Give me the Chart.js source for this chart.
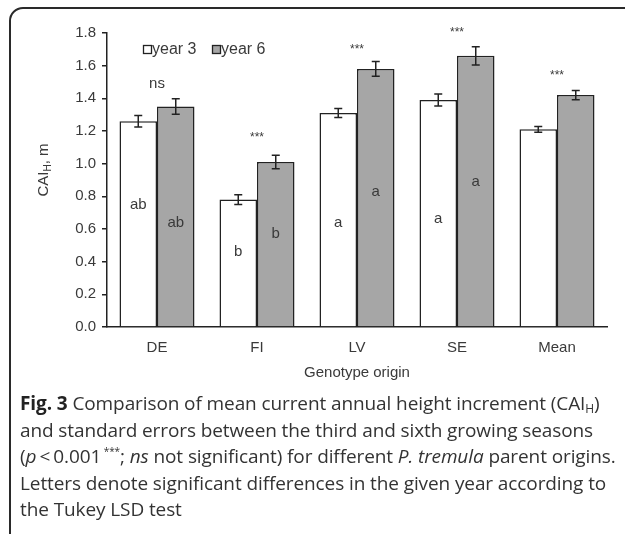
<!DOCTYPE html>
<html>
<head>
<meta charset="utf-8">
<script src="https://cdn.jsdelivr.net/npm/chart.js@4/dist/chart.umd.min.js"></script>
<style>
  html, body { margin: 0; padding: 0; background: #fff; overflow: hidden; }
  #wrap { position: relative; width: 625px; height: 534px; }
  #frame {
    position: absolute; left: 9px; top: 7px; width: 650px; height: 540px;
    border: 2px solid #2a2a2a; border-radius: 14px; box-sizing: border-box;
  }
  canvas { position: absolute; left: 0; top: 0; }
  #caption {
    position: absolute; left: 20px; top: 390px; width: 610px;
    font-family: "Open Sans", sans-serif; font-size: 19px; line-height: 26.5px;
    color: #333; white-space: nowrap; letter-spacing: -0.1px;
  }
  #caption b { color: #222; }
  #caption sub { font-size: 12px; vertical-align: -3px; line-height: 0; }
  #caption sup { font-size: 10px; vertical-align: 8px; line-height: 0; }
</style>
</head>
<body>
<div id="wrap">
  <div id="frame"></div>
  <canvas id="barChart" width="625" height="534"></canvas>
  <div id="caption">
    <b>Fig. 3</b> Comparison of mean current annual height increment (CAI<sub>H</sub>)<br>
    and standard errors between the third and sixth growing seasons<br>
    (<i>p</i>&thinsp;&lt;&thinsp;0.001<sup>&nbsp;***</sup>; <i>ns</i> not significant) for different <i>P. tremula</i> parent origins.<br>
    Letters denote significant differences in the given year according to<br>
    the Tukey LSD test
  </div>
</div>
<script>
// values
const categories = ['DE', 'FI', 'LV', 'SE', 'Mean'];
const year3 = [1.26, 0.78, 1.31, 1.39, 1.21];
const year6 = [1.35, 1.01, 1.58, 1.66, 1.42];
const err3 = [0.035, 0.03, 0.028, 0.037, 0.017];
const err6 = [0.048, 0.041, 0.045, 0.056, 0.028];
const letters3 = ['ab', 'b', 'a', 'a', ''];
const letters6 = ['ab', 'b', 'a', 'a', ''];
const letterY3 = [0.75, 0.46, 0.64, 0.66, 0];
const letterY6 = [0.64, 0.57, 0.83, 0.89, 0];
const signif = ['ns', '***', '***', '***', '***'];
const signifY = [1.49, 1.16, 1.70, 1.80, 1.54];
const yTicks = [0, 0.2, 0.4, 0.6, 0.8, 1.0, 1.2, 1.4, 1.6, 1.8];

const FONT = '"Liberation Sans", Arial, sans-serif';
const INK = '#3a3a3a';

const extras = {
  id: 'extras',
  afterDatasetsDraw(chart) {
    const ctx = chart.ctx;
    const y = chart.scales.y;
    const xs = chart.scales.x;
    ctx.save();
    // error bars
    [[err3, year3], [err6, year6]].forEach(([errs, vals], di) => {
      chart.getDatasetMeta(di).data.forEach((bar, i) => {
        const top = y.getPixelForValue(vals[i] + errs[i]);
        const bot = y.getPixelForValue(vals[i] - errs[i]);
        ctx.strokeStyle = '#222';
        ctx.lineWidth = 1.5;
        ctx.beginPath();
        ctx.moveTo(bar.x, top); ctx.lineTo(bar.x, bot);
        ctx.moveTo(bar.x - 4, top); ctx.lineTo(bar.x + 4, top);
        ctx.moveTo(bar.x - 4, bot); ctx.lineTo(bar.x + 4, bot);
        ctx.stroke();
      });
    });
    // letters inside bars
    ctx.fillStyle = INK;
    ctx.font = '15px ' + FONT;
    ctx.textAlign = 'center';
    ctx.textBaseline = 'middle';
    [[letters3, letterY3], [letters6, letterY6]].forEach(([txt, pos], di) => {
      chart.getDatasetMeta(di).data.forEach((bar, i) => {
        if (txt[i]) ctx.fillText(txt[i], bar.x, y.getPixelForValue(pos[i]));
      });
    });
    // significance marks
    signif.forEach((s, i) => {
      const cx = xs.getPixelForValue(i);
      ctx.font = (s === 'ns' ? '15px ' : '12px ') + FONT;
      ctx.fillText(s, cx, y.getPixelForValue(signifY[i]));
    });
    // x title
    ctx.font = '15px ' + FONT;
    ctx.fillText('Genotype origin', (xs.left + xs.right) / 2, 373);
    // legend
    ctx.font = '16px ' + FONT;
    ctx.textAlign = 'left';
    ctx.lineWidth = 1.3;
    ctx.strokeStyle = '#222';
    ctx.fillStyle = '#fff';
    ctx.fillRect(143.5, 45.5, 8, 8); ctx.strokeRect(143.5, 45.5, 8, 8);
    ctx.fillStyle = '#a6a6a6';
    ctx.fillRect(212.5, 45.5, 8, 8); ctx.strokeRect(212.5, 45.5, 8, 8);
    ctx.fillStyle = INK;
    ctx.fillText('year 3', 152, 50);
    ctx.fillText('year 6', 221, 50);
    // y title with subscript
    ctx.translate(44, 170);
    ctx.rotate(-Math.PI / 2);
    const a = 'CAI', b = 'H', c = ', m';
    ctx.font = '15px ' + FONT; const wa = ctx.measureText(a).width;
    ctx.font = '10px ' + FONT; const wb = ctx.measureText(b).width;
    ctx.font = '15px ' + FONT; const wc = ctx.measureText(c).width;
    const x0 = -(wa + wb + wc) / 2;
    ctx.fillText(a, x0, 0);
    ctx.font = '10px ' + FONT; ctx.fillText(b, x0 + wa, 4);
    ctx.font = '15px ' + FONT; ctx.fillText(c, x0 + wa + wb, 0);
    ctx.restore();
  }
};

new Chart(document.getElementById('barChart').getContext('2d'), {
  type: 'bar',
  data: {
    labels: categories,
    datasets: [
      {
        label: 'year 3',
        data: year3,
        backgroundColor: '#ffffff',
        borderColor: '#222',
        borderWidth: 1.5,
        categoryPercentage: 0.75,
        barPercentage: 1.0,
      },
      {
        label: 'year 6',
        data: year6,
        backgroundColor: '#a6a6a6',
        borderColor: '#222',
        borderWidth: 1.5,
        categoryPercentage: 0.75,
        barPercentage: 1.0,
      },
    ],
  },
  options: {
    responsive: false,
    animation: false,
    layout: { padding: { left: 0, right: 18, top: 33, bottom: 0 } },
    plugins: { legend: { display: false }, tooltip: { enabled: false } },
    scales: {
      x: {
        grid: { display: false },
        border: { color: '#222', width: 1.5 },
        ticks: { color: INK, font: { family: FONT, size: 15 }, padding: 4 },
        afterFit(s) { s.height = 207; },
      },
      y: {
        min: 0,
        max: 1.8,
        afterBuildTicks(s) { s.ticks = yTicks.map((v) => ({ value: v })); },
        grid: { drawOnChartArea: false, drawTicks: true, tickLength: 5, color: '#222', lineWidth: 1.5 },
        border: { color: '#222', width: 1.5 },
        ticks: {
          color: INK, font: { family: FONT, size: 15 }, padding: 6,
          callback: (v) => Number(v).toFixed(1),
        },
        afterFit(s) { s.width = 107; },
      },
    },
  },
  plugins: [extras],
});
</script>
</body>
</html>
